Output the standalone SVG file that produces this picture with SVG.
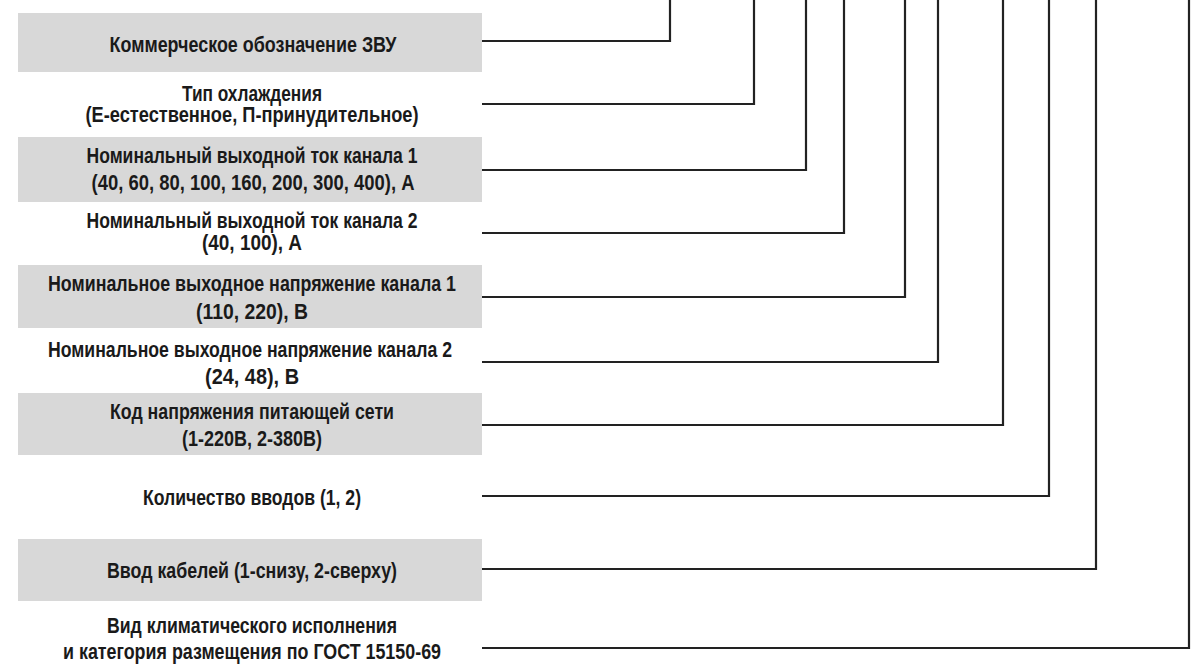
<svg xmlns="http://www.w3.org/2000/svg" width="1202" height="664" viewBox="0 0 1202 664">
<style>
.bg{fill:#ffffff}
.box{fill:#d8d8d8}
.t{font-family:"Liberation Sans","DejaVu Sans",Arial,sans-serif;font-weight:bold;font-size:22.5px;fill:#1a1a1a;text-anchor:middle}
.c{fill:none;stroke:#222222;stroke-width:2.2;stroke-linejoin:miter}
</style>
<rect class="bg" x="0" y="0" width="1202" height="664"/>
<g id="connectors">
<path class="c" d="M482,41 H670 V0"/>
<path class="c" d="M482,104 H754 V0"/>
<path class="c" d="M482,170 H806 V0"/>
<path class="c" d="M482,233 H844 V0"/>
<path class="c" d="M482,297 H905 V0"/>
<path class="c" d="M482,362 H938 V0"/>
<path class="c" d="M482,425 H1003 V0"/>
<path class="c" d="M482,496 H1049 V0"/>
<path class="c" d="M482,569 H1096 V0"/>
<path class="c" d="M482,648 H1189 V0"/>
</g>
<g id="node1">
<rect class="box" x="18" y="13" width="464" height="59"/>
<text class="t" x="253" y="52" textLength="287" lengthAdjust="spacingAndGlyphs">Коммерческое обозначение ЗВУ</text>
</g>
<g id="node2">
<text class="t" x="252" y="101" textLength="140" lengthAdjust="spacingAndGlyphs">Тип охлаждения</text>
<text class="t" x="252" y="122" textLength="333" lengthAdjust="spacingAndGlyphs">(Е-естественное, П-принудительное)</text>
</g>
<g id="node3">
<rect class="box" x="18" y="137" width="464" height="65"/>
<text class="t" x="252" y="163" textLength="331" lengthAdjust="spacingAndGlyphs">Номинальный выходной ток канала 1</text>
<text class="t" x="253" y="190" textLength="323" lengthAdjust="spacingAndGlyphs">(40, 60, 80, 100, 160, 200, 300, 400), А</text>
</g>
<g id="node4">
<text class="t" x="252" y="228" textLength="331" lengthAdjust="spacingAndGlyphs">Номинальный выходной ток канала 2</text>
<text class="t" x="252" y="250" textLength="100" lengthAdjust="spacingAndGlyphs">(40, 100), А</text>
</g>
<g id="node5">
<rect class="box" x="18" y="265" width="464" height="63"/>
<text class="t" x="252" y="291" textLength="408" lengthAdjust="spacingAndGlyphs">Номинальное выходное напряжение канала 1</text>
<text class="t" x="252" y="319" textLength="112" lengthAdjust="spacingAndGlyphs">(110, 220), В</text>
</g>
<g id="node6">
<text class="t" x="250" y="357" textLength="404" lengthAdjust="spacingAndGlyphs">Номинальное выходное напряжение канала 2</text>
<text class="t" x="252" y="384" textLength="94" lengthAdjust="spacingAndGlyphs">(24, 48), В</text>
</g>
<g id="node7">
<rect class="box" x="18" y="393" width="464" height="62"/>
<text class="t" x="252" y="419" textLength="284" lengthAdjust="spacingAndGlyphs">Код напряжения питающей сети</text>
<text class="t" x="252" y="446" textLength="140" lengthAdjust="spacingAndGlyphs">(1-220В, 2-380В)</text>
</g>
<g id="node8">
<text class="t" x="252" y="505" textLength="218" lengthAdjust="spacingAndGlyphs">Количество вводов (1, 2)</text>
</g>
<g id="node9">
<rect class="box" x="18" y="539" width="464" height="62"/>
<text class="t" x="252" y="578" textLength="290" lengthAdjust="spacingAndGlyphs">Ввод кабелей (1-снизу, 2-сверху)</text>
</g>
<g id="node10">
<text class="t" x="252" y="633" textLength="290" lengthAdjust="spacingAndGlyphs">Вид климатического исполнения</text>
<text class="t" x="252" y="659" textLength="378" lengthAdjust="spacingAndGlyphs">и категория размещения по ГОСТ 15150-69</text>
</g>
</svg>
